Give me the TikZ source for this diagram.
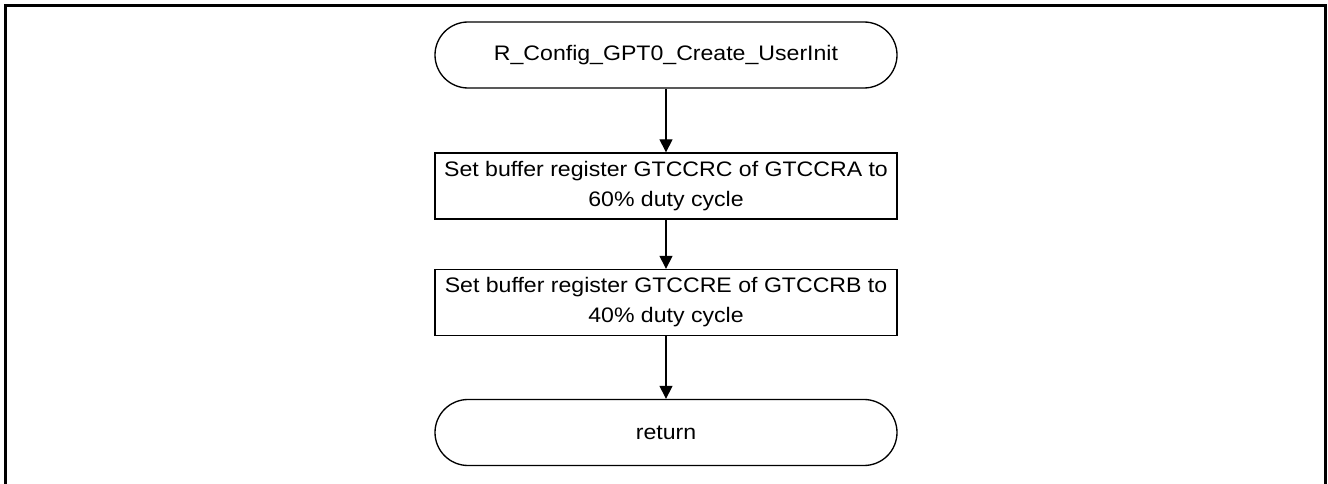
\documentclass[tikz,border=0pt]{standalone}
\usepackage{fontspec}
\setmainfont{Liberation Sans}[FakeStretch=1.1]
\usepackage{tikz}
\usetikzlibrary{arrows.meta,positioning}
\tikzset{
    bloco/.style={
        rectangle,
        draw,
        line width=1pt,
        align=center,
        inner sep=0pt,
        minimum width=346.5pt,
        minimum height=49.5pt,
        font=\fontsize{15.75}{22.5}\selectfont
    },
    terminal/.style={bloco, rounded corners=24.75pt},
    processo/.style={bloco},
    fluxo/.style={-{Triangle[length=9.75pt,width=9.75pt]}, line width=1pt},
    moldura/.style={line width=2.25pt}
}

\begin{document}
\begin{tikzpicture}[x=0.75pt, y=-0.75pt]

    \useasboundingbox (0,0) rectangle (1328,484);

    % frame
    \draw[moldura] (5.5,484) -- (5.5,5.5) -- (1325.5,5.5) -- (1325.5,484);

    \node[terminal] (inicio) at (666,55)
    {R\_Config\_GPT0\_Create\_UserInit};

    \node[processo] (setA) at (666,186)
    {Set buffer register GTCCRC of GTCCRA to\\60\% duty cycle};

    \node[processo] (setB) at (666,302.5)
    {Set buffer register GTCCRE of GTCCRB to\\40\% duty cycle};

    \node[terminal] (retorno) at (666,432.5)
    {return};

    \draw[fluxo] (inicio) -- (setA);
    \draw[fluxo] (setA) -- (setB);
    \draw[fluxo] (setB) -- (retorno);

\end{tikzpicture}
\end{document}
